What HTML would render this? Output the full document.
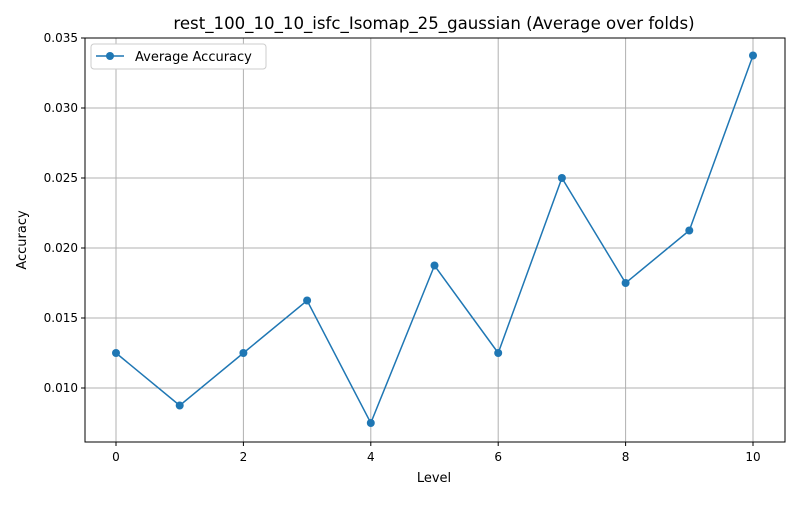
<!DOCTYPE html>
<html><head><meta charset="utf-8"><style>
body{margin:0;background:#fff;font-family:"Liberation Sans","DejaVu Sans",sans-serif;}
text{font-family:"DejaVu Sans","Liberation Sans",sans-serif;}
</style></head><body>
<svg id="chart" width="800" height="500" xmlns="http://www.w3.org/2000/svg">
<rect width="800" height="500" fill="#fff"/>
<text x="434" y="29" text-anchor="middle" font-size="16.6" fill="#000">rest_100_10_10_isfc_Isomap_25_gaussian (Average over folds)</text>
<g id="grid"></g>
<g id="axes"></g>
<g id="series"></g>
<rect x="85" y="38" width="700" height="404" fill="none" stroke="#000" stroke-width="1"/>
<text x="434" y="482" text-anchor="middle" font-size="13">Level</text>
<text transform="translate(26,240) rotate(-90)" text-anchor="middle" font-size="13">Accuracy</text>
<g>
<rect x="91" y="44" width="175" height="25" rx="3" fill="#fff" stroke="#ccc"/>
<line x1="96" y1="56" x2="124" y2="56" stroke="#1f77b4" stroke-width="1.5"/>
<circle cx="110" cy="56" r="4" fill="#1f77b4"/>
<text x="135" y="61" font-size="13">Average Accuracy</text>
</g>
</svg>
<script>
const levels=[0,1,2,3,4,5,6,7,8,9,10];
const accuracy=[0.0125,0.00875,0.0125,0.01625,0.0075,0.01875,0.0125,0.025,0.0175,0.02125,0.03375];
const xTicks=[0,2,4,6,8,10];
const yTicks=[0.010,0.015,0.020,0.025,0.030,0.035];
const NS="http://www.w3.org/2000/svg";
function xs(v){return 116+v*63.7;}
function ys(v){return 388-(v-0.010)*14000;}
function mk(tag,attrs,parent){const e=document.createElementNS(NS,tag);for(const k in attrs)e.setAttribute(k,attrs[k]);parent.appendChild(e);return e;}
const grid=document.getElementById('grid'),axes=document.getElementById('axes'),series=document.getElementById('series');
xTicks.forEach(t=>{const x=xs(t);
const g=mk('line',{x1:x,x2:x,y1:38,y2:442,stroke:'#b0b0b0','stroke-width':1},grid);


mk('line',{x1:x,x2:x,y1:442,y2:446,stroke:'#000'},axes);
const l=mk('text',{x:x,y:461,'text-anchor':'middle','font-size':12},axes);l.textContent=t;


});
yTicks.forEach(t=>{const y=ys(t);
const g=mk('line',{x1:85,x2:785,y1:y,y2:y,stroke:'#b0b0b0','stroke-width':1},grid);


mk('line',{x1:81,x2:85,y1:y,y2:y,stroke:'#000'},axes);
const l=mk('text',{x:78,y:y+4,'text-anchor':'end','font-size':12},axes);l.textContent=t.toFixed(3);


});
const pts=levels.map((v,i)=>xs(v)+','+ys(accuracy[i])).join(' ');
const pl=mk('polyline',{points:pts,fill:'none',stroke:'#1f77b4','stroke-width':1.5},series);


levels.forEach((v,i)=>{const c=mk('circle',{cx:xs(v),cy:ys(accuracy[i]),r:4,fill:'#1f77b4'},series);


});
</script>
</body></html>
